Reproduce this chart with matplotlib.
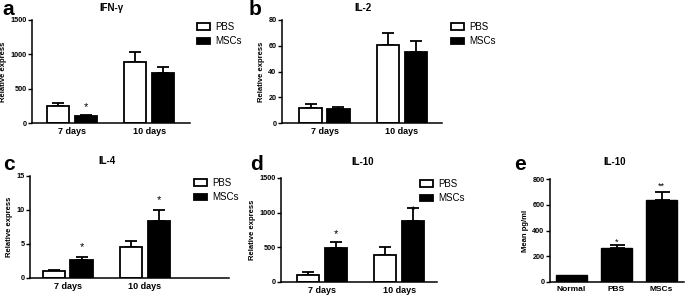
import matplotlib
matplotlib.use("Agg")
import matplotlib.pyplot as plt
import numpy as np

plt.rcParams['font.family'] = ['Liberation Sans', 'DejaVu Sans']

W, H = 685, 295

groups = ["7 days", "10 days"]

ifng_pbs = [250, 884]
ifng_pbs_err = [45, 155]
ifng_msc = [100, 733]
ifng_msc_err = [18, 88]

il2_pbs = [12, 60.5]
il2_pbs_err = [2.5, 9.5]
il2_msc = [10.5, 55]
il2_msc_err = [2.2, 8.5]

il4_pbs = [1.0, 4.5]
il4_pbs_err = [0.2, 0.9]
il4_msc = [2.7, 8.4]
il4_msc_err = [0.45, 1.6]

il10_pbs = [105, 395]
il10_pbs_err = [35, 105]
il10_msc = [490, 884]
il10_msc_err = [90, 185]

serum_cats = ["Normal", "PBS", "MSCs"]
serum_vals = [55, 265, 635]
serum_err = [0, 25, 65]


def px_axes(fig, left, right, top, bottom):
    return fig.add_axes([left / W, 1 - bottom / H, (right - left) / W, (bottom - top) / H])


def style_axes(ax, ymax, ystep):
    for s in ['top', 'right']:
        ax.spines[s].set_visible(False)
    ax.spines['left'].set_linewidth(1.1)
    ax.spines['bottom'].set_linewidth(1.1)
    ax.spines['left'].set_bounds(0, ymax)
    ax.set_ylim(0, ymax)
    ax.set_yticks(np.arange(0, ymax + ystep / 2, ystep))
    ax.tick_params(axis='y', direction='out', length=3, width=1, labelsize=5.2, pad=1)
    ax.tick_params(axis='x', length=0, labelsize=6.5, pad=3)
    for lbl in ax.get_xticklabels() + ax.get_yticklabels():
        lbl.set_fontweight('bold')


def grouped(ax, pbs, pbs_err, msc, msc_err, xlim, ymax, ystep, stars):
    x = np.arange(len(groups))
    w = 0.29
    off = 0.18
    ax.bar(x - off, pbs, w, color='white', edgecolor='black', linewidth=1.3, zorder=2)
    ax.bar(x + off, msc, w, color='black', edgecolor='black', linewidth=1.3, zorder=2)
    ax.errorbar(x - off, pbs, yerr=[np.zeros(len(pbs)), pbs_err], fmt='none',
                ecolor='black', elinewidth=1.3, capsize=4, capthick=1.3, zorder=1)
    ax.errorbar(x + off, msc, yerr=[np.zeros(len(msc)), msc_err], fmt='none',
                ecolor='black', elinewidth=1.3, capsize=4, capthick=1.3, zorder=1)
    for i, yv in stars:
        ax.text(i + off, yv, '*', ha='center', va='center', fontsize=8)
    ax.set_xlim(*xlim)
    ax.set_xticks(x)
    ax.set_xticklabels(groups)
    style_axes(ax, ymax, ystep)
    ax.set_ylabel('Relative express', fontsize=5.5, fontweight='bold', labelpad=2.5)


def legend(fig, ax, x, y):
    h = [plt.Rectangle((0, 0), 1, 1, facecolor='white', edgecolor='black', linewidth=1.3),
         plt.Rectangle((0, 0), 1, 1, facecolor='black', edgecolor='black', linewidth=1.3)]
    ax.legend(h, ['PBS', 'MSCs'], loc='upper left', bbox_to_anchor=(x / W, 1 - y / H),
              bbox_transform=fig.transFigure, frameon=False, fontsize=7,
              borderpad=0, borderaxespad=0, handlelength=1.35, handleheight=0.62,
              handletextpad=0.5, labelspacing=0.45)


fig = plt.figure(figsize=(W / 100, H / 100), dpi=100)

# a
ax = px_axes(fig, 32, 190, 20, 123)
grouped(ax, ifng_pbs, ifng_pbs_err, ifng_msc, ifng_msc_err, (-0.52, 1.53), 1500, 500,
        [(0, 225)])
legend(fig, ax, 197, 22)
fig.text(111 / W, 1 - 8 / H, 'IFN-γ', ha='center', va='center', fontsize=7, fontweight='bold')
fig.text(2 / W, 1 - 15 / H, 'a', ha='left', va='baseline', fontsize=15, fontweight='bold')

# b
ax = px_axes(fig, 282, 442, 20, 123)
grouped(ax, il2_pbs, il2_pbs_err, il2_msc, il2_msc_err, (-0.55, 1.52), 80, 20, [])
legend(fig, ax, 451, 22)
fig.text(363 / W, 1 - 8 / H, 'IL-2', ha='center', va='center', fontsize=7, fontweight='bold')
fig.text(249 / W, 1 - 15 / H, 'b', ha='left', va='baseline', fontsize=15, fontweight='bold')

# c
ax = px_axes(fig, 30, 229, 176, 278)
grouped(ax, il4_pbs, il4_pbs_err, il4_msc, il4_msc_err, (-0.49, 2.09), 15, 5,
        [(0, 4.5), (1, 11.4)])
legend(fig, ax, 194, 178)
fig.text(107 / W, 1 - 161 / H, 'IL-4', ha='center', va='center', fontsize=7, fontweight='bold')
fig.text(3 / W, 1 - 170 / H, 'c', ha='left', va='baseline', fontsize=15, fontweight='bold')

# d
ax = px_axes(fig, 281, 437, 178, 282)
grouped(ax, il10_pbs, il10_pbs_err, il10_msc, il10_msc_err, (-0.53, 1.49), 1500, 500,
        [(0, 690), (1, 1040)])
legend(fig, ax, 420, 179)
fig.text(363 / W, 1 - 162 / H, 'IL-10', ha='center', va='center', fontsize=7, fontweight='bold')
fig.text(250 / W, 1 - 170 / H, 'd', ha='left', va='baseline', fontsize=15, fontweight='bold')

# e
ax = px_axes(fig, 550, 684, 179, 282)
xe = np.arange(len(serum_cats))
ax.bar(xe, serum_vals, 0.69, color='black', edgecolor='black', linewidth=1, zorder=2)
ax.errorbar(xe[1:], serum_vals[1:], yerr=[np.zeros(2), serum_err[1:]], fmt='none',
            ecolor='black', elinewidth=1.3, capsize=5.4, capthick=1.3, zorder=1)
ax.text(1, 310, '*', ha='center', va='center', fontsize=6.5)
ax.text(2, 740, '**', ha='center', va='center', fontsize=6.5)
ax.set_xlim(-0.48, 2.5)
ax.set_xticks(xe)
ax.set_xticklabels(serum_cats)
style_axes(ax, 800, 200)
ax.tick_params(axis='x', labelsize=6)
for lbl in ax.get_xticklabels():
    lbl.set_fontweight('bold')
ax.set_ylabel('Mean pg/ml', fontsize=5.5, fontweight='bold', labelpad=2.5)
fig.text(615 / W, 1 - 162 / H, 'IL-10', ha='center', va='center', fontsize=7, fontweight='bold')
fig.text(514 / W, 1 - 170 / H, 'e', ha='left', va='baseline', fontsize=15, fontweight='bold')

fig.savefig('out.png', dpi=100)
